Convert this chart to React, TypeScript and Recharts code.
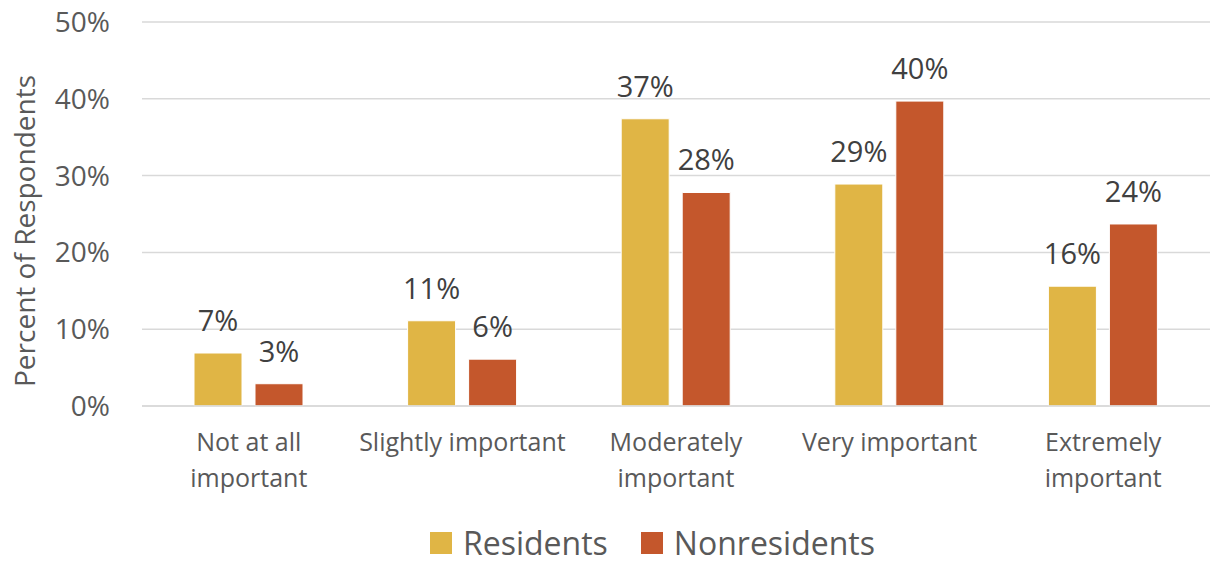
import { BarChart, Bar, XAxis, YAxis, CartesianGrid, Legend, LabelList } from "recharts";

const categories = ["Not at all important", "Slightly important", "Moderately important", "Very important", "Extremely important"];
const residents = [6.9, 11.1, 37.4, 28.9, 15.6];
const nonresidents = [2.9, 6.1, 27.8, 39.7, 23.7];
const yTicks = [0, 10, 20, 30, 40, 50];

const COLORS = {
  residents: "#E0B545",
  nonresidents: "#C4572C",
  text: "#595959",
  label: "#404040",
  grid: "#D9D9D9",
};

const FONT = "'Open Sans', sans-serif";

const data = categories.map((c, i) => ({
  name: c,
  residents: residents[i],
  nonresidents: nonresidents[i],
}));

const pct = (v: any) => `${Math.round(Number(v))}%`;

// greedy word wrap, excel wraps anything wider than the category slot
function wrap(label: string, maxChars = 18) {
  const lines: string[] = [];
  let cur = "";
  for (const w of label.split(" ")) {
    const next = cur ? `${cur} ${w}` : w;
    if (next.length > maxChars && cur) {
      lines.push(cur);
      cur = w;
    } else {
      cur = next;
    }
  }
  if (cur) lines.push(cur);
  return lines;
}

function CategoryTick(props: any) {
  const { x, y, payload } = props;
  const lines = wrap(String(payload.value));
  return (
    <text x={x} y={y} textAnchor="middle" fill={COLORS.text} fontSize={25} fontFamily={FONT}>
      {lines.map((l, i) => (
        <tspan key={i} x={x} dy={i === 0 ? "0.9em" : 36}>
          {l}
        </tspan>
      ))}
    </text>
  );
}

function LegendContent() {
  const items = [
    { label: "Residents", color: COLORS.residents },
    { label: "Nonresidents", color: COLORS.nonresidents },
  ];
  return (
    <div style={{ display: "flex", justifyContent: "center", paddingLeft: 128, fontFamily: FONT, fontSize: 32, color: COLORS.text }}>
      {items.map(it => (
        <div key={it.label} style={{ display: "flex", alignItems: "center", marginRight: 33 }}>
          <span style={{ display: "inline-block", width: 22, height: 22, background: it.color, marginRight: 11 }} />
          <span style={{ lineHeight: "40px" }}>{it.label}</span>
        </div>
      ))}
    </div>
  );
}

export default function App() {
  return (
    <div style={{ position: "absolute", left: 0, top: 0, width: 1210, height: 563, background: "#fff" }}>
      <BarChart
        width={1210}
        height={563}
        data={data}
        margin={{ top: 22, right: 0, bottom: 0, left: 0 }}
        barGap={13}
        barSize={48}
      >
        <CartesianGrid vertical={false} stroke={COLORS.grid} strokeWidth={1.5} />
        <XAxis
          dataKey="name"
          interval={0}
          height={117}
          axisLine={{ stroke: COLORS.grid, strokeWidth: 1.5 }}
          tickLine={false}
          tickSize={0}
          tickMargin={22}
          tick={<CategoryTick />}
        />
        <YAxis
          width={142}
          domain={[0, 50]}
          ticks={yTicks}
          tickFormatter={pct}
          axisLine={false}
          tickLine={false}
          tickSize={0}
          tickMargin={32}
          tick={{ fill: COLORS.text, fontSize: 28, fontFamily: FONT }}
          label={{
            value: "Percent of Respondents",
            angle: -90,
            position: "center",
            dx: -46,
            dy: 17,
            style: { fill: COLORS.text, fontSize: 28, fontFamily: FONT, textAnchor: "middle" },
          }}
        />
        <Legend verticalAlign="bottom" height={40} content={<LegendContent />} />
        <Bar dataKey="residents" name="Residents" fill={COLORS.residents} stroke="#fff" strokeWidth={1} isAnimationActive={false}>
          <LabelList dataKey="residents" position="top" offset={22} formatter={pct} fill={COLORS.label} fontSize={29} fontFamily={FONT} />
        </Bar>
        <Bar dataKey="nonresidents" name="Nonresidents" fill={COLORS.nonresidents} stroke="#fff" strokeWidth={1} isAnimationActive={false}>
          <LabelList dataKey="nonresidents" position="top" offset={22} formatter={pct} fill={COLORS.label} fontSize={29} fontFamily={FONT} />
        </Bar>
      </BarChart>
    </div>
  );
}
